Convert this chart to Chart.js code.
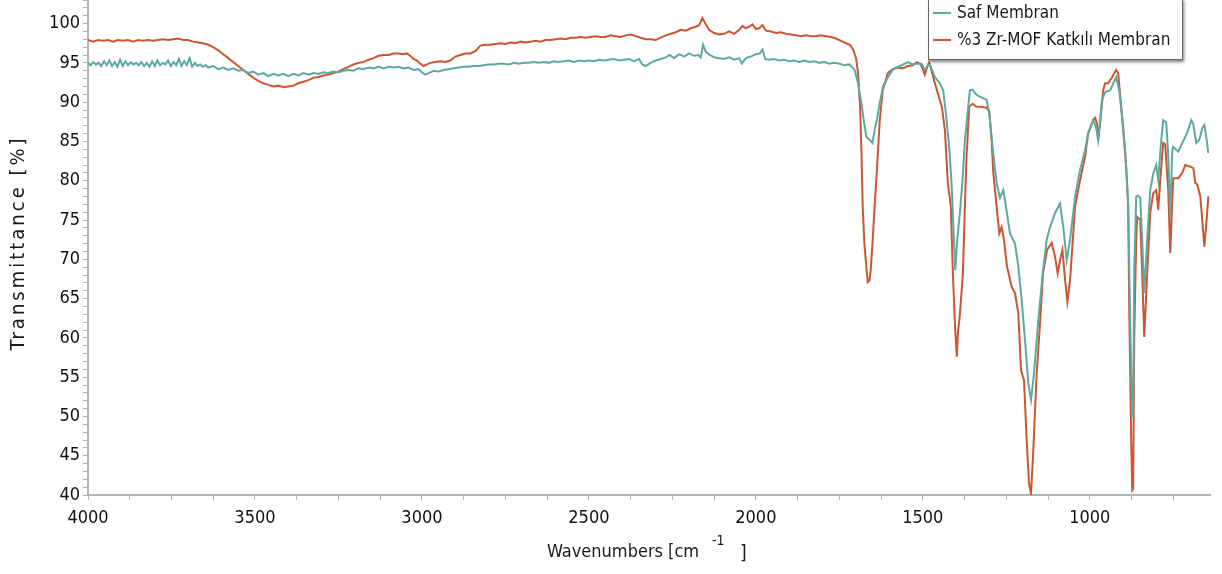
<!DOCTYPE html>
<html>
<head>
<meta charset="utf-8">
<script src="https://cdn.jsdelivr.net/npm/chart.js@4.4.1/dist/chart.umd.min.js"></script>
<style>
html, body { margin: 0; padding: 0; background: #fff; }
#wrap { width: 1222px; height: 574px; }
</style>
</head>
<body>
<div id="wrap"><canvas id="ftirChart" width="1222" height="574"></canvas></div>
<script>
const seriesNames = ['Saf Membran', '%3 Zr-MOF Katkılı Membran'];
const seriesColors = ['#5fa9a3', '#cc5533'];

// [wavenumber, transmittance]
const safData = [[4000,95.0],[3992,94.7],[3984,95.1],[3976,94.8],[3968,95.0],[3960,94.6],[3952,95.2],[3944,94.7],[3936,95.3],[3928,94.6],[3920,95.1],[3912,94.5],[3904,95.4],[3896,94.6],[3888,95.2],[3880,94.7],[3872,95.1],[3864,94.8],[3856,95.0],[3848,94.7],[3840,95.1],[3832,94.6],[3824,95.0],[3816,94.5],[3808,95.2],[3800,94.6],[3792,95.3],[3784,94.7],[3776,95.0],[3768,94.8],[3760,95.3],[3752,94.6],[3744,95.1],[3736,94.7],[3728,95.5],[3720,94.6],[3712,95.2],[3704,94.7],[3696,95.6],[3688,94.5],[3680,95.0],[3672,94.6],[3664,94.8],[3656,94.5],[3648,94.7],[3640,94.4],[3625,94.6],[3610,94.2],[3595,94.4],[3580,94.1],[3565,94.3],[3550,94.0],[3535,94.1],[3520,93.7],[3505,93.9],[3490,93.5],[3475,93.7],[3460,93.3],[3445,93.6],[3430,93.4],[3415,93.6],[3400,93.3],[3385,93.6],[3370,93.4],[3355,93.7],[3340,93.5],[3325,93.7],[3310,93.6],[3295,93.8],[3280,93.7],[3265,93.9],[3250,93.8],[3235,94.0],[3220,94.1],[3205,94.0],[3190,94.3],[3175,94.2],[3160,94.4],[3145,94.3],[3130,94.5],[3115,94.3],[3100,94.5],[3085,94.4],[3070,94.5],[3055,94.3],[3040,94.4],[3025,94.1],[3010,94.2],[3000,93.8],[2990,93.5],[2980,93.7],[2965,94.0],[2950,93.9],[2935,94.1],[2920,94.2],[2905,94.3],[2890,94.4],[2875,94.5],[2860,94.5],[2845,94.6],[2830,94.6],[2815,94.7],[2800,94.8],[2785,94.8],[2770,94.9],[2755,94.9],[2740,94.8],[2725,95.0],[2710,94.9],[2695,95.0],[2680,95.0],[2665,95.1],[2650,95.0],[2635,95.1],[2620,95.0],[2605,95.2],[2590,95.1],[2575,95.2],[2560,95.3],[2545,95.1],[2530,95.3],[2515,95.2],[2500,95.3],[2485,95.2],[2470,95.4],[2455,95.3],[2440,95.4],[2425,95.5],[2410,95.3],[2395,95.4],[2380,95.5],[2365,95.2],[2350,95.5],[2340,94.8],[2330,94.6],[2315,95.0],[2300,95.3],[2285,95.5],[2270,95.7],[2258,96.0],[2245,95.6],[2230,96.1],[2215,95.8],[2200,96.2],[2185,95.9],[2172,96.0],[2165,95.7],[2158,97.3],[2150,96.4],[2138,96.0],[2125,95.7],[2110,95.6],[2095,95.5],[2080,95.7],[2065,95.4],[2050,95.6],[2042,94.9],[2030,95.6],[2015,95.8],[2000,96.1],[1988,96.2],[1980,96.7],[1972,95.5],[1960,95.4],[1945,95.5],[1930,95.3],[1915,95.4],[1900,95.2],[1885,95.3],[1870,95.1],[1855,95.3],[1840,95.1],[1825,95.2],[1810,95.0],[1795,95.1],[1780,94.9],[1765,95.0],[1750,94.9],[1735,94.7],[1720,94.8],[1710,94.4],[1704,94.1],[1694,92.4],[1684,89.9],[1677,87.7],[1669,85.6],[1659,85.2],[1651,84.8],[1644,86.5],[1637,87.9],[1629,89.9],[1619,92.0],[1604,93.2],[1589,94.2],[1575,94.5],[1564,94.7],[1554,94.9],[1544,95.1],[1530,94.8],[1519,94.9],[1504,94.9],[1494,94.1],[1486,94.6],[1479,94.8],[1464,93.2],[1449,92.4],[1439,91.5],[1431,88.6],[1421,84.3],[1414,79.7],[1409,74.6],[1403,68.6],[1397,72.5],[1389,75.9],[1381,80.1],[1374,85.2],[1369,87.3],[1359,91.5],[1351,91.6],[1339,90.9],[1325,90.6],[1309,90.3],[1301,88.6],[1294,85.5],[1289,83.5],[1279,79.7],[1269,77.8],[1259,78.8],[1251,76.7],[1239,73.3],[1224,72.0],[1214,69.1],[1204,64.8],[1194,59.7],[1184,54.2],[1176,52.1],[1167,55.5],[1155,61.9],[1141,68.2],[1129,72.5],[1119,74.1],[1104,75.9],[1089,77.1],[1079,74.0],[1069,69.9],[1059,72.5],[1044,78.0],[1029,81.4],[1014,83.9],[1005,86.0],[990,87.7],[981,86.8],[975,85.2],[963,90.3],[954,91.3],[939,91.5],[921,93.2],[912,91.5],[903,88.2],[894,83.9],[885,77.0],[879,62.0],[873,50.0],[870,50.0],[867,68.2],[861,78.0],[855,78.1],[849,77.8],[843,72.5],[837,65.7],[828,72.5],[819,78.8],[810,80.9],[801,82.0],[795,80.1],[786,85.2],[780,87.7],[771,87.4],[765,83.1],[759,75.4],[753,83.9],[750,84.3],[735,83.7],[723,84.8],[714,85.6],[705,86.5],[696,87.7],[690,87.2],[681,84.8],[672,85.2],[663,86.7],[657,87.1],[651,85.5],[645,83.5]];

const mofData = [[4000,97.9],[3985,97.7],[3970,97.9],[3955,97.8],[3940,97.9],[3925,97.7],[3910,97.9],[3895,97.8],[3880,97.9],[3865,97.7],[3850,97.9],[3835,97.8],[3820,97.9],[3805,97.8],[3790,97.9],[3775,98.0],[3760,97.9],[3745,98.0],[3730,98.1],[3715,97.9],[3700,97.9],[3685,97.7],[3670,97.6],[3655,97.5],[3640,97.3],[3625,97.0],[3610,96.6],[3595,96.1],[3580,95.6],[3565,95.1],[3550,94.6],[3535,94.1],[3520,93.6],[3505,93.1],[3490,92.7],[3475,92.4],[3460,92.2],[3445,92.0],[3430,92.1],[3415,91.9],[3400,92.0],[3385,92.1],[3370,92.4],[3355,92.6],[3340,92.8],[3325,93.1],[3310,93.2],[3295,93.4],[3280,93.5],[3265,93.7],[3250,93.9],[3235,94.2],[3220,94.5],[3205,94.8],[3190,95.0],[3175,95.1],[3160,95.4],[3145,95.6],[3130,95.9],[3115,96.0],[3100,96.0],[3085,96.2],[3070,96.2],[3055,96.1],[3045,96.2],[3035,95.9],[3025,95.5],[3015,95.3],[3005,94.9],[2995,94.6],[2985,94.8],[2975,95.0],[2960,95.1],[2945,95.2],[2930,95.1],[2915,95.3],[2900,95.8],[2885,96.0],[2870,96.2],[2855,96.2],[2840,96.5],[2825,97.2],[2810,97.3],[2795,97.3],[2780,97.4],[2765,97.5],[2750,97.4],[2735,97.6],[2720,97.5],[2705,97.7],[2690,97.6],[2675,97.7],[2660,97.8],[2645,97.7],[2630,97.9],[2615,97.9],[2600,98.0],[2585,98.1],[2570,98.0],[2555,98.2],[2540,98.2],[2525,98.3],[2510,98.2],[2495,98.3],[2480,98.4],[2465,98.3],[2450,98.3],[2435,98.5],[2420,98.4],[2405,98.3],[2390,98.5],[2375,98.6],[2360,98.4],[2345,98.2],[2330,98.0],[2315,98.0],[2300,97.9],[2285,98.2],[2270,98.5],[2255,98.7],[2240,98.9],[2225,99.2],[2210,99.1],[2195,99.4],[2180,99.6],[2170,99.8],[2160,100.7],[2150,99.9],[2140,99.2],[2125,98.8],[2110,98.6],[2095,98.7],[2080,99.0],[2065,98.7],[2050,99.2],[2040,99.7],[2030,99.4],[2020,99.6],[2010,99.9],[2000,99.3],[1990,99.4],[1980,99.8],[1970,99.1],[1955,99.0],[1940,98.8],[1925,98.9],[1910,98.7],[1895,98.6],[1880,98.5],[1865,98.4],[1850,98.5],[1835,98.4],[1820,98.4],[1805,98.5],[1790,98.4],[1775,98.3],[1760,98.1],[1745,97.8],[1730,97.5],[1718,97.3],[1708,96.6],[1700,95.6],[1694,93.7],[1688,89.5],[1684,84.0],[1680,76.7],[1675,72.0],[1670,69.5],[1665,67.1],[1660,67.3],[1656,68.6],[1650,72.5],[1644,77.0],[1638,81.0],[1629,87.7],[1620,91.5],[1605,93.7],[1590,94.2],[1575,94.4],[1560,94.3],[1545,94.6],[1530,94.7],[1518,95.1],[1508,94.9],[1503,94.5],[1494,93.5],[1486,94.6],[1481,95.1],[1475,94.2],[1469,93.2],[1455,91.1],[1443,89.4],[1434,86.5],[1425,79.7],[1416,76.7],[1410,68.2],[1403,61.0],[1398,57.6],[1395,60.6],[1389,63.0],[1380,68.2],[1374,76.7],[1369,83.1],[1361,89.4],[1351,89.8],[1339,89.4],[1325,89.4],[1309,89.3],[1301,88.8],[1294,85.2],[1289,81.0],[1279,76.7],[1271,73.3],[1264,74.1],[1257,72.5],[1248,69.1],[1234,66.5],[1224,65.7],[1214,63.1],[1206,55.9],[1197,54.6],[1189,47.0],[1182,41.5],[1176,40.2],[1170,44.9],[1159,55.5],[1149,61.9],[1140,68.2],[1128,71.2],[1114,72.1],[1104,70.3],[1096,68.2],[1089,69.9],[1082,71.2],[1074,67.4],[1067,64.6],[1059,67.4],[1044,76.7],[1029,80.1],[1014,83.1],[1005,86.0],[990,87.7],[984,88.0],[978,87.2],[975,85.2],[969,87.3],[960,91.5],[954,92.4],[945,92.4],[933,93.2],[921,94.1],[915,93.7],[906,89.4],[900,86.5],[891,81.8],[885,76.7],[882,64.0],[876,47.0],[873,40.6],[870,40.8],[867,59.7],[861,72.5],[858,75.4],[849,75.0],[843,68.2],[837,60.1],[828,68.2],[819,75.9],[810,78.4],[801,78.8],[795,76.3],[789,80.1],[780,84.8],[774,84.6],[765,78.8],[759,70.8],[753,77.5],[750,80.3],[735,80.3],[723,81.0],[714,82.0],[699,81.8],[690,81.6],[684,79.7],[678,79.5],[669,78.0],[657,71.6],[651,74.5],[645,78.0]];

const xMin = 640, xMax = 4000, xStep = 125, xLabelStep = 500;
const yMin = 40, yMax = 103, yStep = 1, yLabelStep = 5;

const fontFam = '"DejaVu Sans Condensed", "DejaVu Sans", sans-serif';
const axisGray = '#b4b4b4';

// axis titles + legend box
const extras = {
    id: 'extras',
    afterDraw(chart) {
        const ctx = chart.ctx;
        ctx.save();
        ctx.fillStyle = '#1a1a1a';

        // y title
        ctx.save();
        ctx.translate(19, 243);
        ctx.rotate(-Math.PI / 2);
        ctx.font = '20px ' + fontFam;
        ctx.letterSpacing = '3px';
        ctx.textAlign = 'center';
        ctx.textBaseline = 'middle';
        ctx.fillText('Transmittance [%]', 0, 0);
        ctx.restore();

        // x title with superscript
        ctx.textBaseline = 'alphabetic';
        ctx.textAlign = 'left';
        ctx.font = '18px ' + fontFam;
        ctx.fillText('Wavenumbers [cm', 547, 557);
        ctx.font = '14px ' + fontFam;
        ctx.fillText('-1', 712, 545);
        ctx.font = '19px ' + fontFam;
        ctx.fillText(']', 740, 559);

        // legend
        const bx = 928, by = -2, bw = 254, bh = 61;
        ctx.save();
        ctx.shadowColor = 'rgba(0,0,0,0.5)';
        ctx.shadowBlur = 3;
        ctx.shadowOffsetX = 2;
        ctx.shadowOffsetY = 3;
        ctx.fillStyle = '#fff';
        ctx.fillRect(bx, by, bw, bh);
        ctx.restore();
        ctx.strokeStyle = '#666';
        ctx.lineWidth = 1;
        ctx.strokeRect(bx + 0.5, by + 0.5, bw, bh);
        ctx.font = '17px ' + fontFam;
        ctx.textBaseline = 'middle';
        const rows = [13, 40];
        seriesNames.forEach((name, i) => {
            ctx.strokeStyle = seriesColors[i];
            ctx.lineWidth = 2;
            ctx.beginPath();
            ctx.moveTo(933, rows[i]);
            ctx.lineTo(951, rows[i]);
            ctx.stroke();
            ctx.fillStyle = '#1a1a1a';
            ctx.fillText(name, 957, rows[i] + 1);
        });
        ctx.restore();
    }
};

const toPoints = arr => arr.map(p => ({x: p[0], y: p[1]}));

new Chart(document.getElementById('ftirChart'), {
    type: 'scatter',
    data: {
        datasets: [
            {
                label: seriesNames[0],
                data: toPoints(safData),
                showLine: true,
                borderColor: seriesColors[0],
                backgroundColor: seriesColors[0],
                borderWidth: 2,
                pointRadius: 0,
            },
            {
                label: seriesNames[1],
                data: toPoints(mofData),
                showLine: true,
                borderColor: seriesColors[1],
                backgroundColor: seriesColors[1],
                borderWidth: 2,
                pointRadius: 0,
            },
        ]
    },
    options: {
        responsive: false,
        animation: false,
        devicePixelRatio: 1,
        layout: { padding: { left: 0, right: 12, top: 0, bottom: 0 } },
        plugins: {
            legend: { display: false },
            tooltip: { enabled: false },
        },
        scales: {
            x: {
                type: 'linear',
                reverse: true,
                min: xMin,
                max: xMax,
                border: { color: axisGray, width: 2 },
                grid: { drawOnChartArea: false, tickLength: 5, color: axisGray },
                ticks: {
                    autoSkip: false,
                    maxRotation: 0,
                    padding: 8,
                    color: '#111',
                    font: { family: fontFam, size: 18 },
                    callback: v => (v % xLabelStep === 0 ? String(v) : ''),
                },
                afterBuildTicks: s => {
                    const t = [];
                    for (let v = Math.ceil(xMin / xStep) * xStep; v <= xMax; v += xStep) t.push({ value: v });
                    s.ticks = t;
                },
                afterFit: s => { s.height = 79; s.paddingLeft = 0; s.paddingRight = 0; },
            },
            y: {
                min: yMin,
                max: yMax,
                border: { color: axisGray, width: 2 },
                grid: { drawOnChartArea: false, tickLength: 5, color: axisGray },
                ticks: {
                    stepSize: yStep,
                    autoSkip: false,
                    padding: 3,
                    color: '#111',
                    font: { family: fontFam, size: 18 },
                    callback: v => (v % yLabelStep === 0 ? String(v) : ''),
                },
                afterBuildTicks: s => { s.ticks = s.ticks.filter(t => Number.isInteger(t.value)); },
                afterFit: s => { s.width = 88; s.paddingTop = 0; s.paddingBottom = 0; },
            }
        }
    },
    plugins: [extras]
});
</script>
</body>
</html>
